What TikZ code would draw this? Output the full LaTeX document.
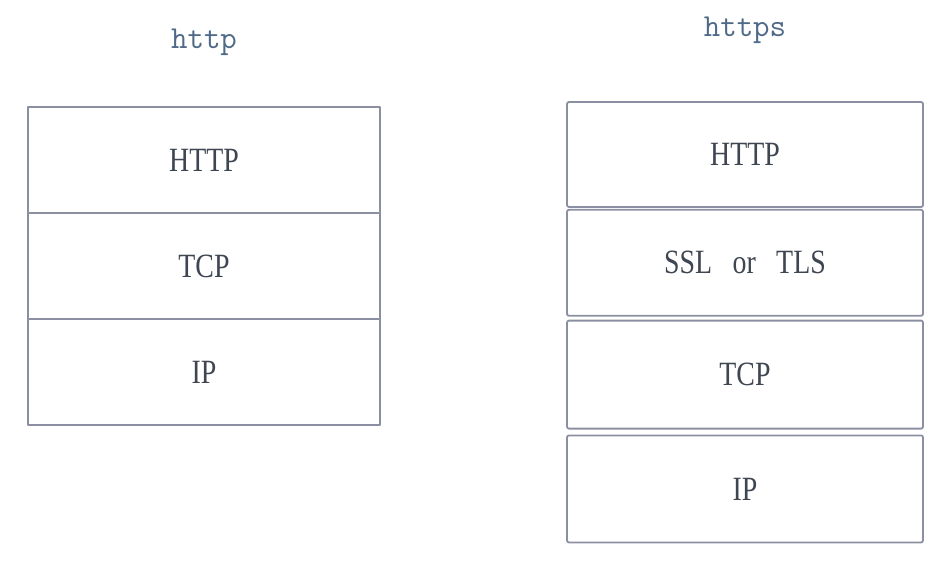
\documentclass[tikz,border=0pt]{standalone}
\usepackage{fontspec}
\setmainfont{Liberation Serif}[FakeStretch=0.82]
\usetikzlibrary{positioning}
\definecolor{boxline}{HTML}{8A90A2}
\definecolor{layertext}{HTML}{3E4652}
\definecolor{titletext}{HTML}{4F6A88}

\begin{document}
\begin{tikzpicture}[line cap=round,line join=round,x=1pt,y=1pt,
  layer/.style={draw=boxline,line width=1.8pt,minimum width=352pt,minimum height=106pt,inner sep=0pt,text=layertext,font=\fontsize{34}{34}\selectfont},
  slayer/.style={layer,minimum width=356pt,minimum height=105pt,rounded corners=2pt},
  title/.style={text=titletext,font=\ttfamily\fontsize{32}{32}\selectfont}]
\useasboundingbox (0,0) rectangle (948,574);
\node[title] (ttl) at (204,532) {http};
\node[layer] (lhttp) at (204,414) {HTTP};
\node[layer,below=-1.8pt of lhttp] (ltcp) {TCP};
\node[layer,below=-1.8pt of ltcp] (lip) {IP};
\node[title] (tts) at (745,544) {https};
\node[slayer] (rhttp) at (745,419.5) {HTTP};
\node[slayer,minimum height=106pt,below=1pt of rhttp] (rssl) {SSL\hspace{.6em}or\hspace{.6em}TLS};
\node[slayer,minimum height=108pt,below=3pt of rssl] (rtcp) {TCP};
\node[slayer,minimum height=107pt,below=5pt of rtcp] (rip) {IP};
\end{tikzpicture}
\end{document}
